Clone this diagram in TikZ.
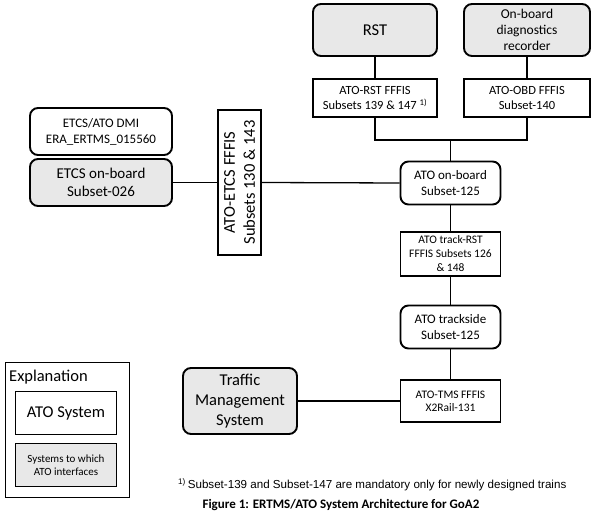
\documentclass[tikz,border=0pt]{standalone}
\usepackage{fontspec}
\setmainfont{Carlito}
\newfontfamily\notefont{Liberation Sans}
\usetikzlibrary{positioning}
\tikzstyle{sys} = [rectangle, rounded corners=8pt, draw=black, line width=1.9pt, fill=gray!18, align=center, inner sep=0pt]
\tikzstyle{ato} = [rectangle, rounded corners=8pt, draw=black, line width=1.9pt, fill=white, align=center, inner sep=0pt]
\tikzstyle{iface} = [rectangle, draw=black, line width=1.9pt, fill=white, align=center, inner sep=0pt]
\tikzstyle{link} = [line width=1.3pt]

\begin{document}
\begin{tikzpicture}[x=1pt,y=-1pt]
\useasboundingbox (0,0) rectangle (595,518);
\fill[white] (0,0) rectangle (595,518);
% on-board side
\node[sys, minimum width=124pt, minimum height=52pt, font=\fontsize{16.5}{20}\selectfont] (rst) at (375,30) {RST};
\node[sys, minimum width=126pt, minimum height=52pt, font=\fontsize{13.5}{16}\selectfont] (obd) at (527,30) {On-board\\diagnostics\\recorder};
\node[iface, minimum width=124pt, minimum height=38pt, font=\fontsize{12.5}{15}\selectfont] (atorst) at (375,98) {ATO-RST FFFIS\\Subsets 139 \& 147 \textsuperscript{1)}};
\node[iface, minimum width=126pt, minimum height=38pt, font=\fontsize{12.5}{15}\selectfont] (atoobd) at (527,98) {ATO-OBD FFFIS\\Subset-140};
\node[ato, minimum width=100pt, minimum height=43pt, font=\fontsize{13}{16}\selectfont] (atoob) at (450.5,183) {ATO on-board\\Subset-125};
\node[ato, minimum width=142pt, minimum height=47pt, font=\fontsize{13}{16}\selectfont] (dmi) at (101,131.5) {ETCS/ATO DMI\\ERA\_ERTMS\_015560};
\node[sys, minimum width=142pt, minimum height=47pt, font=\fontsize{15}{18.5}\selectfont] (etcs) at (101,182.5) {ETCS on-board\\Subset-026};
\node[iface, rotate=90, minimum width=145pt, minimum height=43pt, font=\fontsize{16.5}{20}\selectfont] (etcsif) at (239.5,182.5) {ATO-ETCS FFFIS\\Subsets 130 \& 143};
% trackside
\node[iface, minimum width=100pt, minimum height=44pt, font=\fontsize{11.5}{14}\selectfont] (trackrst) at (450.5,254) {ATO track-RST\\FFFIS Subsets 126\\\& 148};
\node[ato, minimum width=100pt, minimum height=43pt, font=\fontsize{13}{16}\selectfont] (trackside) at (450.5,327) {ATO trackside\\Subset-125};
\node[iface, minimum width=100pt, minimum height=42pt, font=\fontsize{11.5}{13}\selectfont] (tmsif) at (450.5,401) {ATO-TMS FFFIS\\X2Rail-131};
\node[sys, minimum width=114pt, minimum height=66pt, font=\fontsize{16.5}{20}\selectfont] (tms) at (240,401) {Traffic\\Management\\System};
% explanation
\node[iface, minimum width=124pt, minimum height=135pt] (expl) at (67.5,430) {};
\node[anchor=north west, inner sep=0pt, font=\fontsize{16.5}{20}\selectfont] (expltitle) at (9,370) {Explanation};
\node[iface, minimum width=101pt, minimum height=43pt, font=\fontsize{16.5}{20}\selectfont] (legato) at (66,413) {ATO System};
\node[iface, fill=gray!18, minimum width=101pt, minimum height=43pt, font=\fontsize{11}{13.5}\selectfont] (legsys) at (66,465) {Systems to which\\ATO interfaces};
% connectors
\foreach \a/\b in {rst/atorst, obd/atoobd, atoob/trackrst, trackrst/trackside, trackside/tmsif, tms/tmsif}
	\draw[link] (\a) -- (\b);
\coordinate (junc) at (450.5,140);
\draw[link] (atorst.south) |- (junc) -| (atoobd.south);
\draw[link] (junc) -- (atoob);
\draw[link] (etcs.east) -- (etcsif.north);
\draw[link] (etcsif.south) -- (atoob.west);
% texts below
\node[anchor=base west, inner sep=0pt, font=\notefont\fontsize{11.6}{13}\selectfont] (note) at (178,489) {\textsuperscript{1)}\,Subset-139 and Subset-147 are mandatory only for newly designed trains};
\node[inner sep=0pt, font=\bfseries\fontsize{13}{15}\selectfont] (caption) at (341,505) {Figure 1: ERTMS/ATO System Architecture for GoA2};
\end{tikzpicture}
\end{document}
